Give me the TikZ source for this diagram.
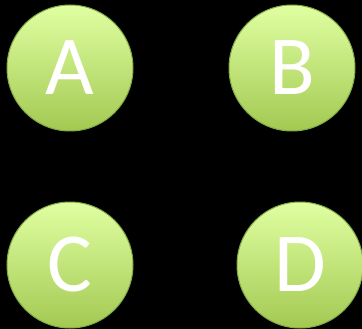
\documentclass[tikz,border=0pt]{standalone}
\usepackage{fontspec}
\setmainfont{Carlito}
\definecolor{gtop}{RGB}{224,255,162}
\definecolor{gbot}{RGB}{163,201,82}
\definecolor{gedge}{RGB}{130,170,70}
\begin{document}
\begin{tikzpicture}[x=1pt,y=-1pt,
  ball/.style={circle,minimum size=126pt,inner sep=0pt,draw=gedge,line width=1pt,
    top color=gtop,bottom color=gbot,text=white,font=\fontsize{84}{84}\selectfont}]
\fill[black] (0,0) rectangle (362,329);
\useasboundingbox (0,0) rectangle (362,329);
\node[ball] (A) at (70,68) {A};
\node[ball] (B) at (292,68) {B};
\node[ball] (C) at (70,265) {C};
\node[ball] (D) at (300,265) {D};
\end{tikzpicture}
\end{document}
